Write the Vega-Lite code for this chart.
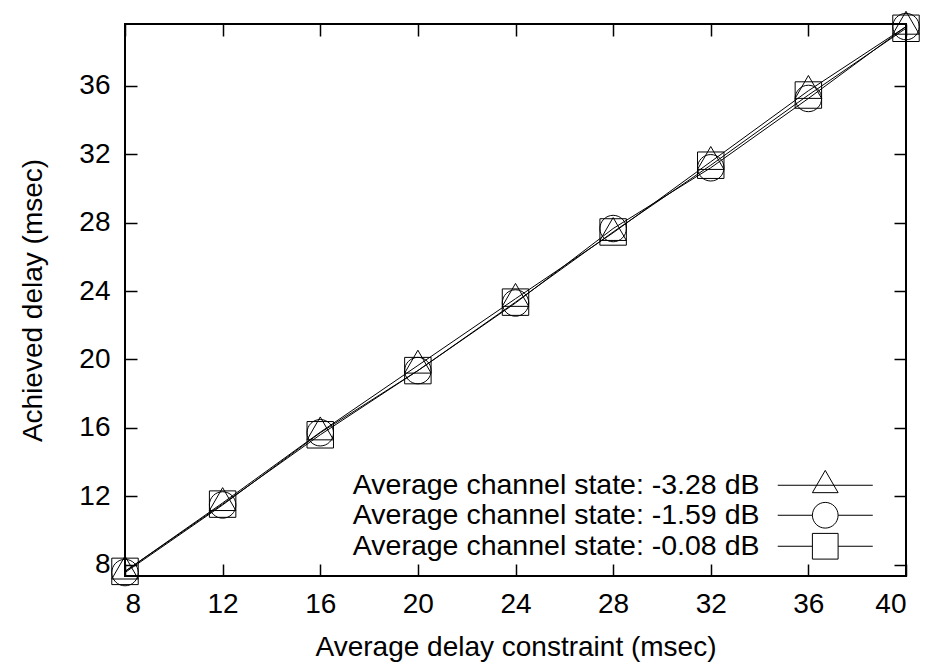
{
  "$schema": "https://vega.github.io/schema/vega-lite/v6.json",
  "width": 781,
  "height": 552,
  "autosize": "none",
  "padding": {"left": 125, "top": 24, "right": 24, "bottom": 88},
  "background": "white",
  "config": {
    "font": "Liberation Sans",
    "view": {"stroke": "black", "strokeWidth": 2},
    "axis": {
      "grid": false,
      "domain": false,
      "tickColor": "black",
      "tickWidth": 1.5,
      "tickSize": -12,
      "labelFont": "Liberation Sans",
      "labelFontSize": 28,
      "labelColor": "black",
      "titleFont": "Liberation Sans",
      "titleFontSize": 28,
      "titleFontWeight": "normal",
      "titleColor": "black"
    }
  },
  "data": {
    "values": [
      {"constraint": 8, "delay": 7.62, "series": "Average channel state: -3.28 dB"},
      {"constraint": 12, "delay": 11.62, "series": "Average channel state: -3.28 dB"},
      {"constraint": 16, "delay": 15.75, "series": "Average channel state: -3.28 dB"},
      {"constraint": 20, "delay": 19.65, "series": "Average channel state: -3.28 dB"},
      {"constraint": 24, "delay": 23.55, "series": "Average channel state: -3.28 dB"},
      {"constraint": 28, "delay": 27.4, "series": "Average channel state: -3.28 dB"},
      {"constraint": 32, "delay": 31.55, "series": "Average channel state: -3.28 dB"},
      {"constraint": 36, "delay": 35.7, "series": "Average channel state: -3.28 dB"},
      {"constraint": 40, "delay": 39.45, "series": "Average channel state: -3.28 dB"},
      {"constraint": 8, "delay": 7.55, "series": "Average channel state: -1.59 dB"},
      {"constraint": 12, "delay": 11.5, "series": "Average channel state: -1.59 dB"},
      {"constraint": 16, "delay": 15.72, "series": "Average channel state: -1.59 dB"},
      {"constraint": 20, "delay": 19.35, "series": "Average channel state: -1.59 dB"},
      {"constraint": 24, "delay": 23.3, "series": "Average channel state: -1.59 dB"},
      {"constraint": 28, "delay": 27.65, "series": "Average channel state: -1.59 dB"},
      {"constraint": 32, "delay": 31.2, "series": "Average channel state: -1.59 dB"},
      {"constraint": 36, "delay": 35.25, "series": "Average channel state: -1.59 dB"},
      {"constraint": 40, "delay": 39.45, "series": "Average channel state: -1.59 dB"},
      {"constraint": 8, "delay": 7.62, "series": "Average channel state: -0.08 dB"},
      {"constraint": 12, "delay": 11.55, "series": "Average channel state: -0.08 dB"},
      {"constraint": 16, "delay": 15.6, "series": "Average channel state: -0.08 dB"},
      {"constraint": 20, "delay": 19.35, "series": "Average channel state: -0.08 dB"},
      {"constraint": 24, "delay": 23.35, "series": "Average channel state: -0.08 dB"},
      {"constraint": 28, "delay": 27.45, "series": "Average channel state: -0.08 dB"},
      {"constraint": 32, "delay": 31.35, "series": "Average channel state: -0.08 dB"},
      {"constraint": 36, "delay": 35.45, "series": "Average channel state: -0.08 dB"},
      {"constraint": 40, "delay": 39.35, "series": "Average channel state: -0.08 dB"}
    ]
  },
  "layer": [
    {
      "mark": {"type": "line", "color": "black", "strokeWidth": 1},
      "encoding": {
        "x": {
          "field": "constraint", "type": "quantitative",
          "scale": {"domain": [8, 40], "nice": false, "zero": false},
          "axis": {"orient": "bottom", "values": [8, 12, 16, 20, 24, 28, 32, 36, 40], "labelPadding": 26, "title": "Average delay constraint (msec)", "titlePadding": 15}
        },
        "y": {
          "field": "delay", "type": "quantitative",
          "scale": {"domain": [7.35, 39.6], "nice": false, "zero": false},
          "axis": {"orient": "left", "values": [8, 12, 16, 20, 24, 28, 32, 36], "labelPadding": 27, "title": "Achieved delay (msec)", "titlePadding": 31}
        },
        "detail": {"field": "series", "type": "nominal"}
      }
    },
    {
      "mark": {"type": "point", "filled": false, "color": "black", "strokeWidth": 1, "size": 700, "opacity": 1},
      "encoding": {
        "x": {
          "field": "constraint", "type": "quantitative",
          "axis": {"orient": "top", "values": [8, 12, 16, 20, 24, 28, 32, 36, 40], "labels": false, "title": null}
        },
        "y": {
          "field": "delay", "type": "quantitative",
          "axis": {"orient": "right", "values": [8, 12, 16, 20, 24, 28, 32, 36], "labels": false, "title": null}
        },
        "shape": {
          "field": "series", "type": "nominal",
          "scale": {
            "domain": ["Average channel state: -3.28 dB", "Average channel state: -1.59 dB", "Average channel state: -0.08 dB"],
            "range": ["M0,-1.155L-1,0.577L1,0.577Z", "M1,0A1,1 0 1,1 -1,0A1,1 0 1,1 1,0Z", "M-1,-1H1V1H-1Z"]
          },
          "legend": null
        }
      }
    },
    {
      "transform": [{"filter": "false"}],
      "mark": {"type": "point", "filled": false, "color": "black", "strokeWidth": 1, "size": 660, "opacity": 1},
      "encoding": {
        "x": {"field": "constraint", "type": "quantitative", "axis": null},
        "y": {"field": "delay", "type": "quantitative", "axis": null},
        "shape": {
          "field": "series", "type": "nominal",
          "scale": {
            "domain": ["Average channel state: -3.28 dB", "Average channel state: -1.59 dB", "Average channel state: -0.08 dB"],
            "range": [
              "M-3.7,0H3.7M0,-1.155L-1,0.577L1,0.577Z",
              "M-3.7,0H-1M1,0H3.7M1,0A1,1 0 1,1 -1,0A1,1 0 1,1 1,0Z",
              "M-3.7,0H-1M1,0H3.7M-1,-1H1V1H-1Z"
            ]
          },
          "legend": {
            "title": null,
            "orient": "none",
            "legendX": 686,
            "legendY": 447,
            "padding": 0,
            "rowPadding": 0,
            "symbolSize": 660,
            "symbolStrokeColor": "black",
            "symbolStrokeWidth": 1,
            "symbolFillColor": "transparent",
            "labelFontSize": 28.5,
            "labelFont": "Liberation Sans",
            "labelColor": "black",
            "labelLimit": 700,
            "labelAlign": "right",
            "labelOffset": -80
          }
        }
      }
    }
  ],
  "resolve": {
    "axis": {"x": "independent", "y": "independent"},
    "scale": {"shape": "independent"}
  }
}
